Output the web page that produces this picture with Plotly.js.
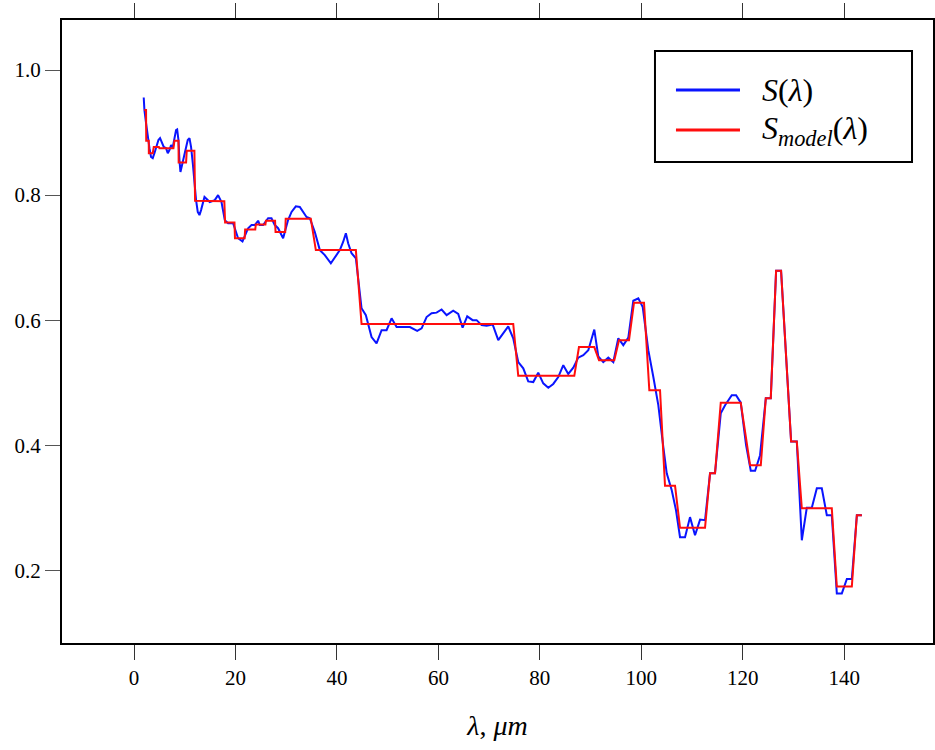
<!DOCTYPE html>
<html>
<head>
<meta charset="utf-8">
<script src="https://cdn.plot.ly/plotly-3.0.1.min.js"></script>
<style>html,body{margin:0;padding:0;background:#fff;}#chart{width:935px;height:750px;}</style>
</head>
<body>
<div id="chart"></div>
<script>
// Measured spectrum S(lambda)
const lambdaMeas = [1.91,2.05,2.37,2.70,3.04,3.35,3.69,4.02,4.34,4.81,5.13,5.46,5.86,6.31,6.65,6.98,7.30,7.63,7.97,8.28,8.50,8.76,8.95,9.15,9.47,9.94,10.59,10.93,11.24,11.58,11.91,12.23,12.56,12.90,13.21,13.55,13.89,14.93,15.92,16.57,17.24,17.89,18.54,19.53,20.20,20.51,21.38,22.03,22.49,23.16,23.81,24.46,24.79,25.44,26.43,27.10,27.75,28.40,29.07,29.39,29.72,30.37,31.05,31.89,32.68,33.33,34.00,34.65,35.64,36.63,37.61,38.80,39.59,40.57,41.22,41.76,42.21,42.88,43.73,44.18,44.85,45.70,46.82,47.81,48.80,49.78,50.77,51.76,52.74,54.38,55.82,56.69,57.67,58.66,59.64,60.63,61.62,62.92,63.91,64.77,65.68,66.75,67.53,68.52,69.51,70.69,71.80,72.78,73.77,74.75,75.74,76.73,77.71,78.70,79.68,80.67,81.66,82.64,83.63,84.62,85.60,86.59,87.57,88.56,89.55,90.73,91.52,92.50,93.49,94.48,95.46,96.45,97.44,98.42,99.41,100.28,101.38,102.37,103.35,104.34,105.01,106.00,106.84,107.63,108.62,109.60,110.59,111.58,112.56,113.55,114.53,115.66,116.51,117.83,118.68,119.60,120.65,121.58,122.43,123.41,124.54,125.52,126.57,127.55,128.54,129.53,130.65,131.64,132.62,133.61,134.60,135.58,136.57,137.55,138.54,139.53,140.52,141.50,142.49,143.48];
const sMeas = [0.956,0.936,0.915,0.893,0.875,0.861,0.859,0.867,0.877,0.888,0.891,0.883,0.877,0.875,0.867,0.872,0.880,0.876,0.888,0.904,0.905,0.888,0.856,0.837,0.848,0.867,0.888,0.891,0.877,0.851,0.819,0.792,0.773,0.768,0.776,0.789,0.797,0.789,0.792,0.800,0.789,0.760,0.755,0.755,0.736,0.731,0.726,0.739,0.747,0.752,0.752,0.759,0.752,0.752,0.763,0.763,0.752,0.747,0.736,0.731,0.741,0.760,0.773,0.782,0.781,0.773,0.765,0.763,0.741,0.712,0.704,0.691,0.700,0.712,0.725,0.739,0.723,0.707,0.699,0.664,0.619,0.608,0.573,0.563,0.584,0.584,0.603,0.589,0.589,0.589,0.583,0.587,0.605,0.611,0.612,0.617,0.608,0.615,0.610,0.588,0.606,0.600,0.600,0.592,0.591,0.593,0.568,0.579,0.590,0.571,0.533,0.523,0.502,0.501,0.516,0.499,0.492,0.498,0.509,0.528,0.514,0.524,0.540,0.544,0.552,0.585,0.542,0.533,0.540,0.533,0.571,0.560,0.572,0.631,0.635,0.621,0.552,0.509,0.464,0.397,0.355,0.328,0.296,0.253,0.253,0.285,0.256,0.281,0.280,0.355,0.355,0.451,0.464,0.480,0.480,0.468,0.400,0.359,0.359,0.384,0.475,0.475,0.679,0.679,0.536,0.406,0.406,0.248,0.300,0.300,0.331,0.331,0.288,0.288,0.163,0.163,0.186,0.186,0.288,0.288];

// Piecewise-constant model S_model(lambda)
const lambdaModel = [2.00,2.37,2.40,2.90,2.92,3.69,3.89,4.90,5.00,7.77,7.97,8.76,8.80,10.26,10.39,11.90,12.03,17.80,17.95,19.80,19.90,21.80,21.90,23.90,24.00,25.90,26.00,27.80,27.90,29.80,29.90,34.85,35.84,43.73,44.85,74.75,75.74,86.79,87.71,90.73,91.66,94.67,95.60,97.57,98.56,100.53,101.58,103.69,104.67,106.65,107.63,112.56,113.55,114.53,115.66,119.60,121.44,123.55,124.54,125.52,126.57,127.55,129.53,130.65,131.64,137.55,138.54,141.50,142.49,143.48];
const sModel = [0.936,0.936,0.887,0.887,0.867,0.867,0.877,0.877,0.875,0.875,0.887,0.887,0.852,0.852,0.871,0.871,0.791,0.790,0.756,0.756,0.731,0.731,0.745,0.745,0.753,0.753,0.759,0.759,0.741,0.741,0.762,0.762,0.712,0.712,0.594,0.594,0.511,0.511,0.557,0.557,0.536,0.536,0.568,0.568,0.628,0.628,0.488,0.488,0.335,0.335,0.268,0.268,0.355,0.355,0.468,0.468,0.368,0.368,0.475,0.475,0.679,0.679,0.406,0.406,0.299,0.299,0.174,0.174,0.288,0.288];

const xTicks = [0,20,40,60,80,100,120,140];
const yTicks = [0.2,0.4,0.6,0.8,1.0];
const seriesNames = ['<i>S</i>(<i>λ</i>)', '<i>S<sub>model</sub></i>(<i>λ</i>)'];
const seriesColors = ['#0a14ff', '#ff0d0d'];

const FONT = 'Liberation Serif';

const traces = [
  {x: lambdaMeas, y: sMeas, type: 'scatter', mode: 'lines', name: seriesNames[0],
   line: {color: seriesColors[0], width: 2}},
  {x: lambdaModel, y: sModel, type: 'scatter', mode: 'lines', name: seriesNames[1],
   line: {color: seriesColors[1], width: 2}}
];

// legend drawn as a boxed key (paper coordinates of the plot area)
const legX0 = 0.6808, legX1 = 0.9759, legY0 = 0.7721, legY1 = 0.9502;
const keyX0 = 0.7049, keyX1 = 0.7784, keyText = 0.8014;
const rowY = [0.8876, 0.8234];

const shapes = [
  {type: 'rect', xref: 'paper', yref: 'paper', x0: legX0, x1: legX1, y0: legY0, y1: legY1,
   line: {color: '#000', width: 2}, fillcolor: '#fff', layer: 'above'}
];
const annotations = [];
seriesNames.forEach((n, i) => {
  shapes.push({type: 'line', xref: 'paper', yref: 'paper', x0: keyX0, x1: keyX1, y0: rowY[i], y1: rowY[i],
    line: {color: seriesColors[i], width: 3}, layer: 'above'});
  annotations.push({xref: 'paper', yref: 'paper', x: keyText, y: rowY[i], xanchor: 'left', yanchor: 'middle',
    text: n, showarrow: false, font: {family: FONT, size: 32, color: '#000'}});
});

const layout = {
  width: 935, height: 750,
  margin: {l: 62, r: 2, t: 20, b: 107},
  paper_bgcolor: '#fff', plot_bgcolor: '#fff',
  font: {family: FONT, size: 21, color: '#000'},
  showlegend: false,
  xaxis: {
    range: [-14.2, 157.5], tickvals: xTicks, ticktext: xTicks.map(String),
    showgrid: false, zeroline: false, showline: true, linecolor: '#000', linewidth: 2,
    mirror: 'ticks', ticks: 'outside', ticklen: 15, tickwidth: 1, tickcolor: '#333',
    tickfont: {family: FONT, size: 21, color: '#000'},
    title: {text: '<i>λ</i>, <i>μm</i>', font: {family: FONT, size: 28, color: '#000'}, standoff: 26}
  },
  yaxis: {
    range: [0.0837, 1.08], tickvals: yTicks, ticktext: yTicks.map(v => v.toFixed(1)),
    showgrid: false, zeroline: false, showline: true, linecolor: '#000', linewidth: 2,
    mirror: true, ticks: 'outside', ticklen: 15, tickwidth: 1, tickcolor: '#555',
    tickfont: {family: FONT, size: 21, color: '#000'}
  },
  shapes: shapes,
  annotations: annotations
};

Plotly.newPlot('chart', traces, layout, {displayModeBar: false, staticPlot: true});
</script>
</body>
</html>
